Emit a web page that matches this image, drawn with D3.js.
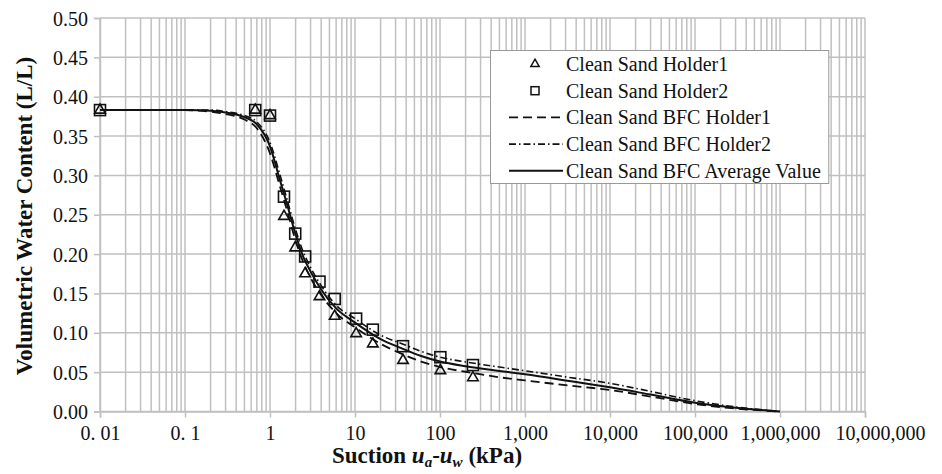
<!DOCTYPE html>
<html>
<head>
<meta charset="utf-8">
<script src="https://cdn.jsdelivr.net/npm/d3@7"></script>
<style>
  body { margin: 0; background: #fff; }
  text { font-family: "Liberation Serif", "Times New Roman", serif; fill: #111; }
</style>
</head>
<body>
<div id="chart-area"></div>
<script>
// measured points (kPa, L/L)
const pointSuction = [0.01, 0.67, 1.0, 1.46, 1.98, 2.59, 3.82, 5.77, 10.3, 16.2, 36.7, 101, 244]
const holder1 = [0.383, 0.383, 0.376, 0.248, 0.208, 0.175, 0.146, 0.121, 0.099, 0.086, 0.065, 0.052, 0.043]
const holder2 = [0.383, 0.383, 0.376, 0.273, 0.226, 0.197, 0.165, 0.143, 0.118, 0.104, 0.083, 0.069, 0.059]

// best-fit curves
const curveSuction = [0.01, 0.1, 0.2, 0.3, 0.5, 0.7, 1, 1.3, 1.6, 2, 2.5, 3, 4, 6, 10, 20, 35, 60, 100, 200, 500, 1000, 3000, 10000, 30000, 100000, 300000, 1000000]
const bfcHolder1 = [0.383, 0.383, 0.381, 0.378, 0.371, 0.360, 0.328, 0.287, 0.254, 0.217, 0.188, 0.170, 0.148, 0.125, 0.107, 0.086, 0.0735, 0.0635, 0.0565, 0.0505, 0.0435, 0.0395, 0.0335, 0.0273, 0.019, 0.0095, 0.0038, 0]
const bfcHolder2 = [0.383, 0.383, 0.383, 0.381, 0.376, 0.368, 0.342, 0.302, 0.268, 0.231, 0.201, 0.183, 0.160, 0.135, 0.118, 0.097, 0.0865, 0.0765, 0.069, 0.063, 0.0565, 0.0518, 0.044, 0.0358, 0.0255, 0.0137, 0.0058, 0]
const bfcAverage = [0.383, 0.383, 0.382, 0.380, 0.374, 0.365, 0.337, 0.295, 0.262, 0.225, 0.195, 0.178, 0.155, 0.131, 0.113, 0.092, 0.0805, 0.0705, 0.0635, 0.0575, 0.0515, 0.0472, 0.0395, 0.0307, 0.0215, 0.0112, 0.0048, 0]

const xTickValues = [0.01, 0.1, 1, 10, 100, 1000, 10000, 100000, 1000000, 10000000]
const xTickLabels = ["0. 01", "0. 1", "1", "10", "100", "1,000", "10,000", "100,000", "1,000,000", "10,000,000"]
const yTickValues = [0, 0.05, 0.1, 0.15, 0.2, 0.25, 0.3, 0.35, 0.4, 0.45, 0.5]
const yTickLabels = ["0.00", "0.05", "0.10", "0.15", "0.20", "0.25", "0.30", "0.35", "0.40", "0.45", "0.50"]

const legendLabels = ["Clean Sand Holder1", "Clean Sand Holder2", "Clean Sand BFC Holder1", "Clean Sand BFC Holder2", "Clean Sand BFC Average Value"]

const width = 942, height = 474
const plotLeft = 100, plotRight = 865, plotTop = 18, plotBottom = 411.5
const grid = "#c0c0c0"

const svg = d3.select("#chart-area").append("svg")
	.attr("width", width)
	.attr("height", height)

const x = d3.scaleLog().domain([0.01, 10000000]).range([plotLeft, plotRight])
const y = d3.scaleLinear().domain([0, 0.5]).range([plotBottom, plotTop])

// vertical grid: every 1..9 in each decade
const minor = []
xTickValues.slice(0, -1).forEach(d => {
	for (let k = 1; k <= 9; k++) minor.push(d * k)
})
minor.push(10000000)

svg.append("g").selectAll("line")
	.data(minor)
	.enter().append("line")
	.attr("x1", d => x(d)).attr("x2", d => x(d))
	.attr("y1", plotTop).attr("y2", plotBottom)
	.attr("stroke", grid)
	.attr("stroke-width", 1.5)

svg.append("g").selectAll("line")
	.data(yTickValues)
	.enter().append("line")
	.attr("x1", plotLeft).attr("x2", plotRight)
	.attr("y1", d => y(d)).attr("y2", d => y(d))
	.attr("stroke", grid)
	.attr("stroke-width", 1.5)

// axes
const xAxis = svg.append("g")
	.attr("transform", `translate(0,${plotBottom})`)
	.call(d3.axisBottom(x).tickValues(xTickValues).tickFormat((d, i) => xTickLabels[i]).tickSize(6).tickPadding(8))
const yAxis = svg.append("g")
	.attr("transform", `translate(${plotLeft},0)`)
	.call(d3.axisLeft(y).tickValues(yTickValues).tickFormat((d, i) => yTickLabels[i]).tickSize(6).tickPadding(6))

;[xAxis, yAxis].forEach(a => {
	a.select(".domain").attr("stroke", grid).attr("stroke-width", 1.5)
	a.selectAll(".tick line").attr("stroke", grid).attr("stroke-width", 1.5)
	a.selectAll(".tick text")
		.style("font-family", '"Liberation Serif", serif')
		.style("font-size", "20px")
		.attr("fill", "#111")
})
yAxis.selectAll(".tick text").attr("dy", "0.35em")
// last label sits a little to the right, like the original
xAxis.selectAll(".tick text").filter((d, i) => i === xTickValues.length - 1).attr("x", 15)

// curves
const line = d3.line()
	.x(d => x(d[0]))
	.y(d => y(d[1]))
	.curve(d3.curveMonotoneX)

const curves = [
	{ values: bfcHolder1, dash: "9,5", width: 1.8 },
	{ values: bfcHolder2, dash: "7,3,1.5,3", width: 1.6 },
	{ values: bfcAverage, dash: null, width: 2 }
]

curves.forEach(c => {
	svg.append("path")
		.datum(curveSuction.map((s, i) => [s, c.values[i]]))
		.attr("d", line)
		.attr("fill", "none")
		.attr("stroke", "#111")
		.attr("stroke-width", c.width)
		.attr("stroke-dasharray", c.dash)
})

// markers
const tri = d3.symbol().type(d3.symbolTriangle).size(48)
svg.append("g").selectAll("path")
	.data(pointSuction.map((s, i) => [s, holder1[i]]))
	.enter().append("path")
	.attr("d", tri)
	.attr("transform", d => `translate(${x(d[0])},${y(d[1])})`)
	.attr("fill", "none")
	.attr("stroke", "#111")
	.attr("stroke-width", 1.6)

svg.append("g").selectAll("rect")
	.data(pointSuction.map((s, i) => [s, holder2[i]]))
	.enter().append("rect")
	.attr("x", d => x(d[0]) - 5.5)
	.attr("y", d => y(d[1]) - 5.5)
	.attr("width", 11)
	.attr("height", 11)
	.attr("fill", "none")
	.attr("stroke", "#111")
	.attr("stroke-width", 1.6)

// legend
const legend = svg.append("g")
const box = legend.append("rect")
	.attr("x", 490.5).attr("y", 50.5)
	.attr("height", 133)
	.attr("fill", "#fff")
	.attr("stroke", "#999")
	.attr("stroke-width", 1)

let maxEnd = 0
legendLabels.forEach((label, i) => {
	const cy = 64 + i * 26.7
	const t = legend.append("text")
		.attr("x", 566).attr("y", cy)
		.attr("dy", "0.35em")
		.style("font-size", "20px")
		.text(label)
	maxEnd = Math.max(maxEnd, 566 + t.node().getComputedTextLength())
	if (i === 0) {
		legend.append("path").attr("d", d3.symbol().type(d3.symbolTriangle).size(30))
			.attr("transform", `translate(535,${cy})`)
			.attr("fill", "none").attr("stroke", "#111").attr("stroke-width", 1.5)
	} else if (i === 1) {
		legend.append("rect").attr("x", 531).attr("y", cy - 4).attr("width", 8).attr("height", 8)
			.attr("fill", "none").attr("stroke", "#111").attr("stroke-width", 1.5)
	} else {
		const c = curves[i - 2]
		legend.append("line").attr("x1", 509).attr("x2", 563).attr("y1", cy).attr("y2", cy)
			.attr("stroke", "#111").attr("stroke-width", c.width)
			.attr("stroke-dasharray", c.dash)
	}
})
box.attr("width", maxEnd + 8 - 490.5)

// axis titles
svg.append("text")
	.attr("transform", "translate(24,216) rotate(-90)")
	.attr("text-anchor", "middle")
	.attr("dy", "0.35em")
	.style("font-size", "23px")
	.style("font-weight", "bold")
	.text("Volumetric Water Content (L/L)")

const xt = svg.append("text")
	.attr("x", 427).attr("y", 463)
	.attr("text-anchor", "middle")
	.style("font-size", "23px")
	.style("font-weight", "bold")
xt.append("tspan").text("Suction ")
xt.append("tspan").style("font-style", "italic").text("u")
xt.append("tspan").style("font-style", "italic").style("font-size", "15px").attr("dy", 4).text("a")
xt.append("tspan").attr("dy", -4).text("-")
xt.append("tspan").style("font-style", "italic").text("u")
xt.append("tspan").style("font-style", "italic").style("font-size", "15px").attr("dy", 4).text("w")
xt.append("tspan").attr("dy", -4).text(" (kPa)")
</script>
</body>
</html>
